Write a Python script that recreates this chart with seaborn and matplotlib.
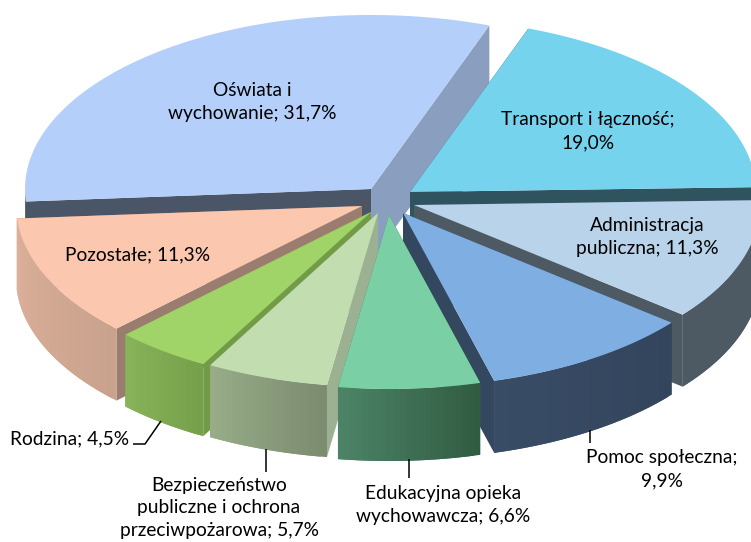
import numpy as np
import matplotlib
matplotlib.use("Agg")
import matplotlib.pyplot as plt
import seaborn as sns

sns.set_theme(style="white")
plt.rcParams['font.family'] = ['Lato', 'DejaVu Sans']

# dane
kategorie = ['Transport i łączność', 'Administracja\npubliczna', 'Pomoc społeczna',
             'Edukacyjna opieka\nwychowawcza', 'Bezpieczeństwo\npubliczne i ochrona\nprzeciwpożarowa',
             'Rodzina', 'Pozostałe', 'Oświata i\nwychowanie']
udzial = [19.0, 11.3, 9.9, 6.6, 5.7, 4.5, 11.3, 31.7]

# kolory: gora, sciana ciecia, gradient sciany zewnetrznej
kol_gora = ['#75D3EE', '#B8D3EA', '#7FAEE3', '#7AD0A4', '#C2DDB0', '#A0D468', '#FBC8AF', '#B4CFFA']
kol_ciecie = ['#2F535F', '#4D5A63', '#33475F', '#3F6F56', '#9CB192', '#729B47', '#9A7D6E', '#4A5568']
kol_ciecie2 = ['#2F535F', '#4D5A63', '#33475F', '#3F6F56', '#9CB192', '#729B47', '#9A7D6E', '#8A9FBF']
kol_sciana = [('#2F535F', '#2F535F'), ('#4D5A63', '#4D5A63'), ('#394C66', '#33455C'),
              ('#4C8367', '#315C42'), ('#97AC87', '#7C8C70'), ('#88B35A', '#76A04A'),
              ('#DDB09A', '#C9A28D'), ('#4A5568', '#4A5568')]

# geometria wykresu (piksele)
RX, RY, GLEB = 346, 174, 72
START = 20
wierzcholki = [(410, 192), (414, 205), (403, 213), (389, 215), (378, 213), (371, 212), (362, 206), (371, 189)]
kolejnosc = [7, 0, 1, 6, 5, 4, 2, 3]

# pozycje etykiet i linie odniesienia
poz_etykiet = [(588, 131), (647, 237), (662, 469), (443, 505), (219, 508), (70, 439), (138, 255), (252, 102)]
linie = [([133, 145, 161], [444, 444, 421]), ([266, 266], [449, 472]),
         ([409, 409], [459, 478]), ([590, 590], [430, 443])]

fig, ax = plt.subplots(figsize=(7.51, 5.42), dpi=100)
fig.subplots_adjust(0, 0, 1, 1)
ax.set_xlim(0, 751)
ax.set_ylim(542, 0)
ax.axis('off')


def punkt(tip, a):
    a = np.radians(a)
    return tip[0] + RX * np.sin(a), tip[1] - RY * np.cos(a)


def wielokat(xs, ys, kolor):
    ax.fill(xs, ys, facecolor=kolor, edgecolor='none')


katy = START + np.cumsum([0] + udzial) * 3.6

for i in kolejnosc:
    tip = wierzcholki[i]
    a0, a1 = katy[i], katy[i + 1]

    # sciany ciecia
    x0, y0 = punkt(tip, a0)
    x1, y1 = punkt(tip, a1)
    wielokat([tip[0], x1, x1, tip[0]], [tip[1], y1, y1 + GLEB, tip[1] + GLEB], kol_ciecie2[i])
    wielokat([tip[0], x0, x0, tip[0]], [tip[1], y0, y0 + GLEB, tip[1] + GLEB], kol_ciecie[i])

    # sciana zewnetrzna z gradientem, paski zachodza na siebie zeby nie bylo szwow
    lo, hi = max(a0, 90), min(a1, 270)
    if hi > lo:
        n = max(int(hi - lo), 2)
        siatka = np.linspace(lo, hi, n + 1)
        xs, ys = punkt(tip, siatka)
        # gradient idzie od lewej do prawej
        paleta = sns.blend_palette(kol_sciana[i], n)[::-1]
        for k in range(n):
            xk, yk = xs[k:k + 3], ys[k:k + 3]
            wielokat(np.r_[xk, xk[::-1]], np.r_[yk, yk[::-1] + GLEB], paleta[k])

    # gorna powierzchnia
    siatka = np.linspace(a0, a1, 120)
    xs, ys = punkt(tip, siatka)
    ax.fill(np.r_[tip[0], xs], np.r_[tip[1], ys], facecolor=kol_gora[i], edgecolor='none')

for xs, ys in linie:
    ax.plot(xs, ys, color='black', linewidth=1.1, solid_capstyle='butt', solid_joinstyle='miter')

for nazwa, wart, (x, y) in zip(kategorie, udzial, poz_etykiet):
    tekst = f"{nazwa}; {wart:.1f}%".replace('.', ',')
    if nazwa in ('Transport i łączność', 'Pomoc społeczna'):
        tekst = f"{nazwa};\n{wart:.1f}%".replace('.', ',')
    ax.text(x, y, tekst, ha='center', va='center', fontsize=13.8, color='black', linespacing=1.42)

fig.savefig('out.png', dpi=100)
